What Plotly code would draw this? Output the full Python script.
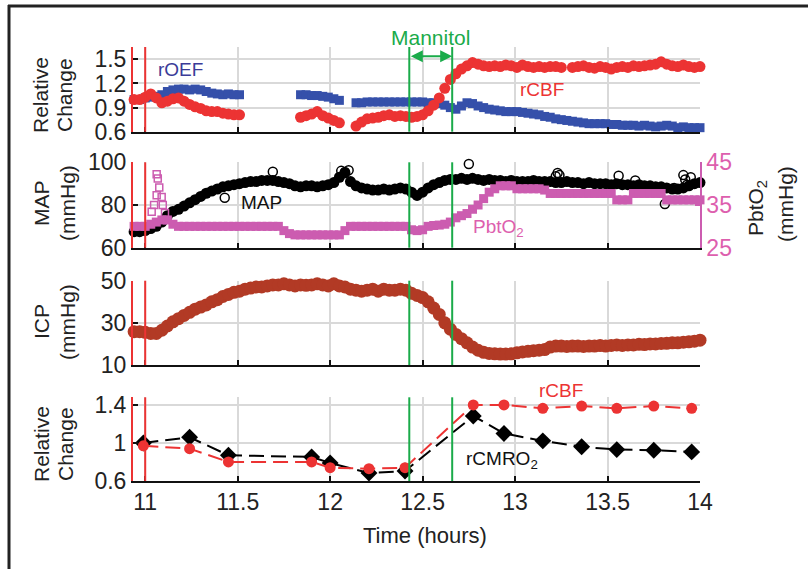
import plotly.graph_objects as go

# ---------------- data ----------------
# common sampling times for the dense monitoring traces (hours)
T = [round(10.94 + 0.03 * i, 2) for i in range(103)]
N = None

rOEF = [1.0, 1.0, 1.02, 1.03, 1.04, 1.06, 1.10, 1.12, 1.13, 1.13,
        1.12, 1.13, 1.12, 1.10, 1.08, 1.07, 1.06, 1.07, 1.06, 1.06,
        N, N, N, N, N, N, N, N, N, N,
        1.06, 1.06, 1.05, 1.05, 1.04, 1.03, 1.01, 0.99, N, N,
        0.96, 0.96, 0.97, 0.97, 0.97, 0.97, 0.97, 0.97, 0.97, 0.97,
        0.97, 0.97, 0.97, 0.96, 0.96, 0.95, 0.93, 0.90, 0.88, 0.92,
        0.96, 0.95, 0.92, 0.90, 0.88, 0.87, 0.86, 0.85, 0.85, 0.85,
        0.84, 0.83, 0.82, 0.81, 0.79, 0.78, 0.76, 0.75, 0.74, 0.73,
        0.72, 0.71, 0.70, 0.70, 0.70, 0.70, 0.69, 0.69, 0.68, 0.68,
        0.68, 0.67, 0.68, 0.67, 0.66, 0.67, 0.68, 0.67, 0.65, 0.66,
        0.65, 0.65, 0.65]

rCBF_cont = [1.00, 1.00, 1.03, 1.07, 1.02, 0.96, 0.98, 1.01, 1.02, 0.98,
             0.94, 0.91, 0.89, 0.86, 0.85, 0.85, 0.83, 0.82, 0.81, 0.81,
             N, N, N, N, N, N, N, N, N, N,
             0.78, 0.80, 0.82, 0.85, 0.80, 0.77, 0.74, 0.71, N, N,
             0.67, 0.72, 0.76, 0.77, 0.78, 0.80, 0.81, 0.79, 0.80, 0.79,
             0.78, 0.79, 0.81, 0.86, 0.93, 1.02, 1.14, 1.25, 1.32, 1.38,
             1.42, 1.46, 1.44, 1.42, 1.41, 1.42, 1.41, 1.43, 1.42, 1.40,
             1.43, 1.41, 1.40, 1.41, 1.40, 1.41, 1.41, 1.40, N, 1.40,
             1.41, 1.42, 1.40, 1.39, 1.41, 1.40, 1.38, 1.40, 1.41, 1.40,
             1.42, 1.41, 1.42, 1.43, 1.44, 1.47, 1.44, 1.42, 1.41, 1.43,
             1.41, 1.40, 1.41]

MAP = [67.5, 67.5, 68, 69, 70, 72, 75, 77, 78, 79.5,
       81, 82.5, 84, 85.5, 86.5, 87.5, 88.5, 89, 89.5, 90,
       90.5, 91, 91, 91.5, 91.5, 91.5, 91, 90.5, 90, 89,
       88.5, 89, 89, 88.5, 89, 89.5, 90.5, 93, 95, 91,
       89, 88, 87.5, 87, 87, 87.5, 87, 87.5, 88, 87.5,
       86, 84.5, 86, 88, 89.5, 90.5, 91.5, 92, 92, 92.5,
       92, 92.5, 92, 91.5, 92, 91.5, 91.5, 91, 91.5, 91,
       91, 91, 91.5, 91, 91, 91, 90.5, 90.5, 91, 90.5,
       90.5, 90, 90.5, 90, 90, 90, 89.5, 90, 89.5, 89.5,
       89, 89.5, 89, 89, 88.5, 88.5, 88, 87.5, 87.5, 88,
       89, 90, 90.5]

MAP_out_t = [11.43, 11.69, 12.06, 12.08, 12.10, 12.75, 13.22, 13.23, 13.24,
             13.56, 13.65, 13.81, 13.86, 13.91, 13.92, 13.93, 13.95]
MAP_out_v = [83.4, 95.6, 96.0, 95.5, 96.3, 99.2, 93.5, 95.0, 94.0,
             93.7, 91.5, 80.5, 88.0, 94.0, 92.0, 89.5, 93.0]

PbtO2 = [30, 30, 30, 30.5, 31, 31.5, 31.5, 30.5, 30, 30,
         30, 30, 30, 30, 30, 30, 30, 30, 30, 30,
         30, 30, 30, 30, 30, 30, 30, 29, 28.3, 28,
         28, 28, 28, 28, 28, 28, 28, 28, 29, 30,
         30, 30, 30, 30, 30, 30, 30, 30, 30, 30,
         29.2, 29, 29.2, 30, 30.2, 30.3, 30.5, 31, 32, 32.5,
         33, 34, 35, 36.5, 38, 38.8, 39.5, 39.5, 39.5, 38.8,
         38.8, 38.8, 38.8, 38.8, 38.5, 37.7, 37.7, 37.7, 37.7, 37.7,
         37.7, 37.7, 37.7, 37.7, 37.7, 37.7, 37.7, 36.2, 36.2, 36.2,
         37.7, 37.7, 37.7, 37.7, 37.7, 37.7, 36.2, 36.2, 36.2, 36.2,
         36.2, 36.2, 36.2]

PbtO2_spike_t = [11.035, 11.048, 11.062, 11.076, 11.068, 11.062, 11.089, 11.095, 11.107]
PbtO2_spike_v = [33.4, 35.0, 37.3, 39.1, 41.2, 42.2, 36.9, 35.0, 33.1]

ICP = [25.8, 25.8, 25.5, 25, 25, 26.5, 28.5, 30.5, 32, 33.5,
       35, 36.5, 37.5, 38.5, 40, 41, 42.5, 43.5, 44.5, 45,
       46, 46.5, 47, 47, 47.5, 48, 48, 48.5, 48, 47.5,
       48, 47.8, 48, 48.5, 48, 47.5, 48.5, 47.5, 47, 46,
       45.5, 45, 45.5, 46, 45, 46, 45.5, 45.5, 46, 45.5,
       44, 43, 42, 40, 37, 34, 30, 27, 24.5, 22.5,
       20.5, 18.5, 17, 16, 15.5, 15.3, 15.2, 15.2, 15.3, 15.8,
       16.2, 16.5, 16.8, 17, 17.3, 18.5, 19, 19, 18.8, 19,
       19, 18.8, 19, 19, 19.2, 19, 19.3, 19.5, 19.3, 19.5,
       19.5, 19.8, 19.7, 20, 20, 20.2, 20.3, 20.5, 20.5, 20.8,
       21, 21.3, 21.8]

# discrete estimates (bottom panel)
T_pts = [10.99, 11.24, 11.45, 11.90, 12.00, 12.21, 12.405, 12.774, 12.94, 13.15, 13.36, 13.55, 13.75, 13.955]
rCMRO2_pts = [1.0, 1.06, 0.87, 0.853, 0.79, 0.684, 0.705, 1.283, 1.10, 1.022, 0.96, 0.93, 0.924, 0.906]
rCBF_pts = [0.97, 0.94, 0.80, 0.80, 0.74, 0.73, 0.74, 1.40, 1.40, 1.364, 1.388, 1.364, 1.388, 1.364]

event_red = [11.0]
mannitol = [12.428, 12.66]
x_ticks = [11, 11.5, 12, 12.5, 13, 13.5, 14]
x_ticktext = ["11", "11.5", "12", "12.5", "13", "13.5", "14"]

# ---------------- style ----------------
FONT = "Liberation Sans, Arial, sans-serif"
BLUE = "#3550aa"
RED = "#ec3333"
PINK = "#cc5cb0"
PINK_T = "#dd5fae"
ICPC = "#b23a25"
GREEN = "#1aab4a"
GRID = "#d9d9d9"
XR = [10.934, 14.0]

W, H = 808, 569
ML, MR, MT, MB = 133, 108, 47, 88
PW, PH = W - ML - MR, H - MT - MB


def px2x(px):
    return (px - ML) / PW


def py2y(py):
    return (H - MB - py) / PH


fig = go.Figure()

# panel 1 (top): x4 / y5
fig.add_trace(go.Scatter(x=T, y=rOEF, mode="markers", xaxis="x4", yaxis="y5",
                         marker=dict(symbol="square", size=9, color=BLUE), cliponaxis=False))
fig.add_trace(go.Scatter(x=T, y=rCBF_cont, mode="markers", xaxis="x4", yaxis="y5",
                         marker=dict(symbol="circle", size=11, color=RED), cliponaxis=False))
# panel 2: x3 / y3 (MAP) + y4 (PbtO2)
fig.add_trace(go.Scatter(x=T, y=PbtO2, mode="markers", xaxis="x3", yaxis="y4",
                         marker=dict(symbol="square", size=9, color=PINK), cliponaxis=False))
fig.add_trace(go.Scatter(x=PbtO2_spike_t, y=PbtO2_spike_v, mode="markers", xaxis="x3", yaxis="y4",
                         marker=dict(symbol="square-open", size=7, color=PINK, line=dict(width=1.5)),
                         cliponaxis=False))
fig.add_trace(go.Scatter(x=T, y=MAP, mode="markers", xaxis="x3", yaxis="y3",
                         marker=dict(symbol="circle", size=11, color="black"), cliponaxis=False))
fig.add_trace(go.Scatter(x=MAP_out_t, y=MAP_out_v, mode="markers", xaxis="x3", yaxis="y3",
                         marker=dict(symbol="circle-open", size=9, color="black", line=dict(width=1.5)),
                         cliponaxis=False))
# panel 3: x2 / y2
fig.add_trace(go.Scatter(x=T, y=ICP, mode="markers", xaxis="x2", yaxis="y2",
                         marker=dict(symbol="circle", size=13, color=ICPC), cliponaxis=False))
# panel 4: x / y
fig.add_trace(go.Scatter(x=T_pts, y=rCMRO2_pts, mode="lines+markers", xaxis="x", yaxis="y",
                         line=dict(color="black", width=2, dash="15px,7px"),
                         marker=dict(symbol="diamond", size=13, color="black"), cliponaxis=False))
fig.add_trace(go.Scatter(x=T_pts, y=rCBF_pts, mode="lines+markers", xaxis="x", yaxis="y",
                         line=dict(color=RED, width=2, dash="15px,7px"),
                         marker=dict(symbol="circle", size=11, color=RED), cliponaxis=False))

dom = {
    "y5": [py2y(131.7), 1.0],
    "y3": [py2y(247.7), py2y(162.3)],
    "y2": [py2y(365.0), py2y(280.7)],
    "y": [0.0, py2y(397.3)],
}

xbase = dict(range=XR, tickmode="array", tickvals=x_ticks, ticktext=x_ticktext,
             showgrid=True, gridcolor=GRID, gridwidth=1.5, zeroline=False,
             showline=True, linecolor="#111", linewidth=1.5,
             ticks="inside", ticklen=5, tickcolor="#111", tickwidth=1.5,
             tickfont=dict(family=FONT, size=23, color="#222"))
# left axis spine drawn in red (event marker coincides with the left edge)
ybase = dict(showgrid=True, gridcolor=GRID, gridwidth=1.5, zeroline=False,
             showline=True, linecolor=RED, linewidth=2,
             ticks="inside", ticklen=5, tickcolor="#111", tickwidth=1.5,
             tickfont=dict(family=FONT, size=23, color="#222"), tickmode="array")

fig.update_layout(
    width=W, height=H, autosize=False,
    margin=dict(l=ML, r=MR, t=MT, b=MB),
    paper_bgcolor="white", plot_bgcolor="white",
    showlegend=False,
    font=dict(family=FONT, color="#222"),
    xaxis=dict(xbase, anchor="y", showticklabels=True),
    xaxis2=dict(xbase, anchor="y2", showticklabels=False, matches="x"),
    xaxis3=dict(xbase, anchor="y3", showticklabels=False, matches="x"),
    xaxis4=dict(xbase, anchor="y5", showticklabels=False, matches="x"),
    yaxis=dict(ybase, domain=dom["y"], anchor="x", range=[0.6, 1.48],
               tickvals=[0.6, 1.0, 1.4], ticktext=["0.6", "1", "1.4"]),
    yaxis2=dict(ybase, domain=dom["y2"], anchor="x2", range=[10, 50],
                tickvals=[10, 30, 50], ticktext=["10", "30", "50"]),
    yaxis3=dict(ybase, domain=dom["y3"], anchor="x3", range=[60, 100],
                tickvals=[60, 80, 100], ticktext=["60", "80", "100"]),
    yaxis4=dict(ybase, overlaying="y3", side="right", anchor="x3", range=[25, 45],
                tickvals=[25, 35, 45], ticktext=["25", "35", "45"], showgrid=False,
                showline=True, linecolor=PINK, linewidth=1.5, tickcolor=PINK,
                tickfont=dict(family=FONT, size=23, color=PINK_T)),
    yaxis5=dict(ybase, domain=dom["y5"], anchor="x4", range=[0.6, 1.654],
                tickvals=[0.6, 0.9, 1.2, 1.5], ticktext=["0.6", "0.9", "1.2", "1.5"]),
)

shapes = []
panels = [("x4", "y5"), ("x3", "y3"), ("x2", "y2"), ("x", "y")]
for xa, ya in panels:
    for xv in event_red:
        shapes.append(dict(type="line", xref=xa, yref=ya + " domain", x0=xv, x1=xv, y0=0, y1=1,
                           line=dict(color=RED, width=2), layer="above"))
    for xv in mannitol:
        shapes.append(dict(type="line", xref=xa, yref=ya + " domain", x0=xv, x1=xv, y0=0, y1=1,
                           line=dict(color=GREEN, width=2), layer="above"))
# outer frame (top and left edges)
shapes.append(dict(type="line", xref="paper", yref="paper", x0=px2x(8), x1=px2x(808),
                   y0=py2y(6), y1=py2y(6), line=dict(color="#222", width=3)))
shapes.append(dict(type="line", xref="paper", yref="paper", x0=px2x(9), x1=px2x(9),
                   y0=py2y(5), y1=py2y(569), line=dict(color="#222", width=3)))
fig.update_layout(shapes=shapes)

ann = []


def txt(text, x, y, xref, yref, color, size, angle=0):
    ann.append(dict(text=text, x=x, y=y, xref=xref, yref=yref, showarrow=False,
                    font=dict(family=FONT, size=size, color=color), textangle=angle,
                    xanchor="center", yanchor="middle"))


# series labels
txt("rOEF", 11.19, 1.37, "x4", "y5", "#3b3b98", 19)
txt("rCBF", 13.146, 1.12, "x4", "y5", RED, 19)
txt("Mannitol", 12.544, py2y(38), "x4", "paper", GREEN, 21)
txt("MAP", 11.628, 81.4, "x3", "y3", "#111", 19)
txt("PbtO<sub>2</sub>", 12.908, 69.2, "x3", "y3", PINK_T, 19)
txt("rCBF", 13.25, py2y(390), "x", "paper", RED, 19)
txt("rCMRO<sub>2</sub>", 12.93, 0.818, "x", "y", "#111", 19)

# Mannitol double arrow
ann.append(dict(x=mannitol[1], y=1.54, ax=mannitol[0], ay=1.54, xref="x4", yref="y5",
                axref="x4", ayref="y5", text="", showarrow=True, arrowhead=2,
                arrowside="end+start", arrowsize=1.2, arrowwidth=2, arrowcolor=GREEN,
                standoff=0, startstandoff=0))

# axis titles
TS = 21
txt("Relative", px2x(41), py2y(95), "paper", "paper", "#222", TS, -90)
txt("Change", px2x(65), py2y(95), "paper", "paper", "#222", TS, -90)
txt("MAP", px2x(41), py2y(203), "paper", "paper", "#222", TS, -90)
txt("(mmHg)", px2x(67), py2y(203), "paper", "paper", "#222", TS, -90)
txt("ICP", px2x(41), py2y(322), "paper", "paper", "#222", TS, -90)
txt("(mmHg)", px2x(67), py2y(322), "paper", "paper", "#222", TS, -90)
txt("Relative", px2x(41), py2y(444), "paper", "paper", "#222", TS, -90)
txt("Change", px2x(65), py2y(444), "paper", "paper", "#222", TS, -90)
txt("PbtO<sub>2</sub>", px2x(757), py2y(208), "paper", "paper", "#222", TS, -90)
txt("(mmHg)", px2x(785), py2y(204), "paper", "paper", "#222", TS, -90)
txt("Time (hours)", px2x(425), py2y(535), "paper", "paper", "#222", 22)

fig.update_layout(annotations=ann)

fig.write_html("out.html")
